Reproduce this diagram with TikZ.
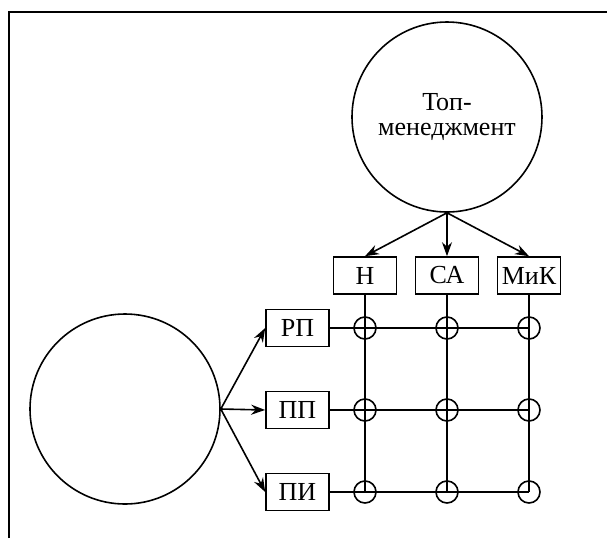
\documentclass[tikz,border=0pt]{standalone}
\usepackage{fontspec}
\setmainfont{Liberation Serif}
\usetikzlibrary{positioning, arrows.meta}

\begin{document}
\begin{tikzpicture}[x=0.5pt, y=-0.5pt, ->, >={Stealth[length=7pt,width=5pt]},
  line width=0.8pt, node distance=41pt,
  every node/.style={font=\fontsize{13}{12.5}\selectfont},
  big/.style={circle, draw, minimum size=95pt, inner sep=0pt},
  box/.style={rectangle, draw, minimum width=31.5pt, minimum height=18.5pt, inner sep=1pt},
  junc/.style={circle, draw, minimum size=11pt, inner sep=0pt}]

  \useasboundingbox (0,0) rectangle (607,538);

  % Frame
  \draw[-, line width=1.1pt] (9,538) -- (9,12) -- (607,12);

  % Circles
  \node[big, align=center] (top) at (447,117) {Топ-\\менеджмент};
  \node[big] (left) at (125,409) {};

  % Boxes
  \node[box] (N) at (365,275.5) {Н};
  \node[box] (CA) [right of=N] {СА};
  \node[box] (MiK) [right of=CA] {МиК};
  \node[box] (RP) at (297.5,328) {РП};
  \node[box] (PP) [below of=RP] {ПП};
  \node[box] (PI) [below of=PP] {ПИ};

  % Junctions
  \node[junc] (j11) at (N |- RP) {};
  \node[junc] (j12) at (CA |- RP) {};
  \node[junc] (j13) at (MiK |- RP) {};
  \node[junc] (j21) at (N |- PP) {};
  \node[junc] (j22) at (CA |- PP) {};
  \node[junc] (j23) at (MiK |- PP) {};
  \node[junc] (j31) at (N |- PI) {};
  \node[junc] (j32) at (CA |- PI) {};
  \node[junc] (j33) at (MiK |- PI) {};

  % Grid
  \draw[-] (RP) -- (j13.center);
  \draw[-] (PP) -- (j23.center);
  \draw[-] (PI) -- (j33.center);
  \draw[-] (N) -- (j31.center);
  \draw[-] (CA) -- (j32.center);
  \draw[-] (MiK) -- (j33.center);

  % Arrows
  \path (top.south) edge (N.north);
  \path (top.south) edge (CA.north);
  \path (top.south) edge (MiK.north);
  \path (left.east) edge (RP.west);
  \path (left.east) edge (PP.west);
  \path (left.east) edge (PI.west);

\end{tikzpicture}
\end{document}
